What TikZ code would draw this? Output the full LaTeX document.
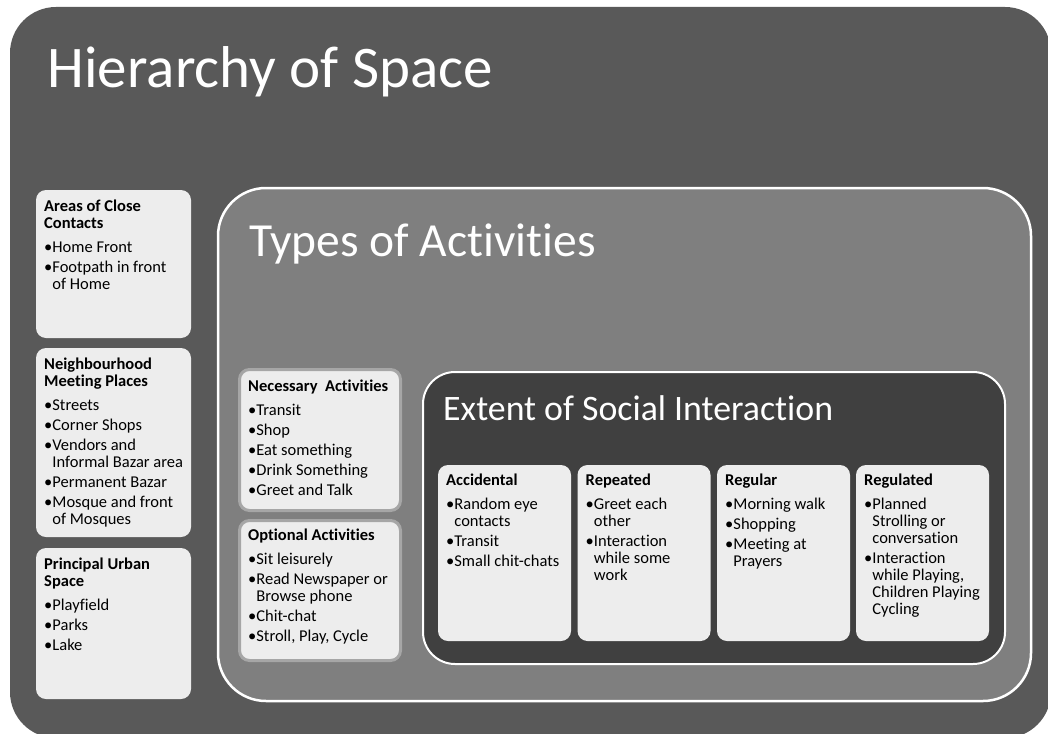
\documentclass[tikz,border=0pt]{standalone}
\usepackage{fontspec}
\setmainfont{Carlito}[Ligatures=NoCommon]
\usetikzlibrary{positioning}

\definecolor{SpaceGrey}{HTML}{595959}
\definecolor{ActGrey}{HTML}{7F7F7F}
\definecolor{SocialGrey}{HTML}{404040}
\definecolor{CardGrey}{HTML}{EDEDED}
\definecolor{EdgeGrey}{HTML}{A6A6A6}

% bullet lists inside the cards
\newlength{\bulw}
\newcommand{\cardfont}{\fontsize{16.5}{17}\selectfont\setlength{\parskip}{3pt}\settowidth{\bulw}{\textbullet}}
\newcommand{\nl}{\hfil\break}
\newcommand{\head}[1]{\noindent\rule{0pt}{13pt}\textbf{#1}\par\vspace{4pt}}
\newcommand{\itm}[1]{\par\noindent\hangindent=\bulw\hangafter=1\textbullet#1\par}

\begin{document}
\begin{tikzpicture}[x=1pt, y=-1pt,
    panel/.style={anchor=north west, inner sep=0pt, outer sep=0pt, rounded corners=#1},
    card/.style={panel=10pt, fill=CardGrey},
    edged/.style={card, draw=EdgeGrey, line width=3pt},
    cardtext/.style={anchor=north west, inner sep=0pt, text width=150pt, align=flush left, font=\cardfont},
    title/.style={anchor=base west, inner sep=0pt, text=white}]
    \useasboundingbox (0,0) rectangle (1048,733);
    \clip (0,0) rectangle (1048,733);

    % nested panels
    \node[panel=46pt, fill=SpaceGrey, minimum width=1041pt, minimum height=731pt] (space) at (10,7) {};
    \node[panel=48pt, fill=ActGrey, draw=white, line width=2.5pt, minimum width=813pt, minimum height=513pt] (act) at (218,188) {};
    \node[panel=32pt, fill=SocialGrey, draw=white, line width=2pt, minimum width=582pt, minimum height=292pt] (social) at (423,372) {};

    \node[title, font=\fontsize{59}{71}\selectfont] (space-t) at (47.5,88) {Hierarchy of Space};
    \node[title, font=\fontsize{47.5}{57}\selectfont] (act-t) at (249,256) {Types of Activities};
    \node[title, font=\fontsize{35.8}{43}\selectfont] (social-t) at (443,420) {Extent of Social Interaction};

    % hierarchy of space
    \node[card, minimum width=155pt, minimum height=148pt] (close) at (36,190) {};
    \node[cardtext] (close-t) at ([shift={(8,8)}]close.north west)
        {\head{Areas of Close\nl Contacts}\itm{Home Front}\itm{Footpath in front\nl of Home}};
    \node[card, minimum width=155pt, minimum height=189pt] (hood) at (36,348) {};
    \node[cardtext] (hood-t) at ([shift={(8,8)}]hood.north west)
        {\head{Neighbourhood\nl Meeting Places}\itm{Streets}\itm{Corner Shops}\itm{Vendors and\nl Informal Bazar area}\itm{Permanent Bazar}\itm{Mosque and front\nl of Mosques}};
    \node[card, minimum width=155pt, minimum height=151pt] (urban) at (36,548) {};
    \node[cardtext] (urban-t) at ([shift={(8,8)}]urban.north west)
        {\head{Principal Urban\nl Space}\itm{Playfield}\itm{Parks}\itm{Lake}};

    % types of activities
    \node[edged, minimum width=161pt, minimum height=141pt] (need) at (239.5,369.5) {};
    \node[cardtext] (need-t) at ([shift={(8.5,8.5)}]need.north west)
        {\head{Necessary~ Activities}\itm{Transit}\itm{Shop}\itm{Eat something}\itm{Drink Something}\itm{Greet and Talk}};
    \node[edged, minimum width=161pt, minimum height=140pt] (opt) at (239.5,520.5) {};
    \node[cardtext] (opt-t) at ([shift={(8.5,6.5)}]opt.north west)
        {\head{Optional Activities}\itm{Sit leisurely}\itm{Read Newspaper or\nl Browse phone}\itm{Chit-chat}\itm{Stroll, Play, Cycle}};

    % extent of social interaction
    \foreach \n/\x/\ttl/\txt in {
        acc/438/Accidental/{\itm{Random eye\nl contacts}\itm{Transit}\itm{Small chit-chats}},
        rep/577.5/Repeated/{\itm{Greet each\nl other}\itm{Interaction\nl while some\nl work}},
        reg/717/Regular/{\itm{Morning walk}\itm{Shopping}\itm{Meeting at\nl Prayers}},
        rul/856/Regulated/{\itm{Planned\nl Strolling or\nl conversation}\itm{Interaction\nl while Playing,\nl Children Playing\nl Cycling}}}
    {
        \node[card, minimum width=133pt, minimum height=176pt] (\n) at (\x,465) {};
        \node[cardtext] (\n-t) at ([shift={(8,7)}]\n.north west) {\head{\ttl}\txt};
    }
\end{tikzpicture}
\end{document}
